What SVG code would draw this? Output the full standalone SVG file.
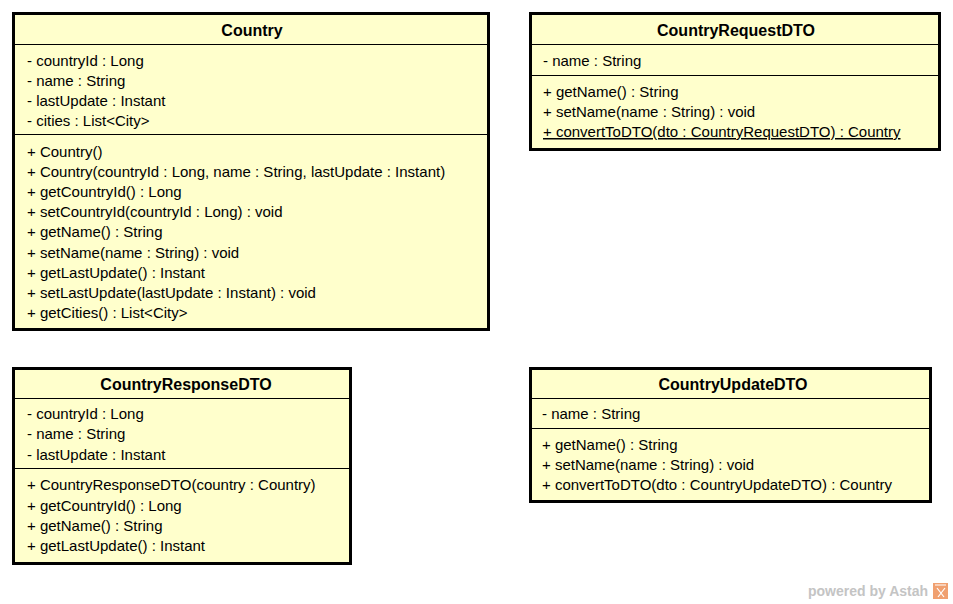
<svg xmlns="http://www.w3.org/2000/svg" width="953" height="604" viewBox="0 0 953 604">
<style>
.box{fill:#FFFFCC;stroke:#000;stroke-width:3}
.sep{stroke:#000;stroke-width:1}
.t{font-family:"Liberation Sans",Arial,sans-serif;font-size:15px;fill:#000}
.title{font-family:"Liberation Sans",Arial,sans-serif;font-size:16px;font-weight:bold;fill:#000;text-anchor:middle}
.wm{font-family:"Liberation Sans",Arial,sans-serif;font-size:14px;font-weight:bold;fill:#C4C4C4}
</style>
<rect width="953" height="604" fill="#fff"/>
<g id="Country">
<rect class="box" x="13.5" y="13.5" width="475" height="316"/>
<line class="sep" x1="15" y1="44.5" x2="487" y2="44.5"/>
<line class="sep" x1="15" y1="134.5" x2="487" y2="134.5"/>
<text class="title" x="252" y="36">Country</text>
<text class="t" x="27" y="66">- countryId : Long</text>
<text class="t" x="27" y="86">- name : String</text>
<text class="t" x="27" y="106">- lastUpdate : Instant</text>
<text class="t" x="27" y="126">- cities : List&lt;City&gt;</text>
<text class="t" x="27" y="157">+ Country()</text>
<text class="t" x="27" y="177">+ Country(countryId : Long, name : String, lastUpdate : Instant)</text>
<text class="t" x="27" y="197">+ getCountryId() : Long</text>
<text class="t" x="27" y="217">+ setCountryId(countryId : Long) : void</text>
<text class="t" x="27" y="237">+ getName() : String</text>
<text class="t" x="27" y="258">+ setName(name : String) : void</text>
<text class="t" x="27" y="278">+ getLastUpdate() : Instant</text>
<text class="t" x="27" y="298">+ setLastUpdate(lastUpdate : Instant) : void</text>
<text class="t" x="27" y="318">+ getCities() : List&lt;City&gt;</text>
</g>
<g id="CountryRequestDTO">
<rect class="box" x="530.5" y="13.5" width="409" height="136"/>
<line class="sep" x1="532" y1="44.5" x2="938" y2="44.5"/>
<line class="sep" x1="532" y1="75.5" x2="938" y2="75.5"/>
<text class="title" x="736" y="36">CountryRequestDTO</text>
<text class="t" x="543" y="66">- name : String</text>
<text class="t" x="543" y="97">+ getName() : String</text>
<text class="t" x="543" y="117">+ setName(name : String) : void</text>
<text class="t" x="543" y="137" text-decoration="underline">+ convertToDTO(dto : CountryRequestDTO) : Country</text>
</g>
<g id="CountryResponseDTO">
<rect class="box" x="13.5" y="368.5" width="337" height="195"/>
<line class="sep" x1="15" y1="398.5" x2="349" y2="398.5"/>
<line class="sep" x1="15" y1="468.5" x2="349" y2="468.5"/>
<text class="title" x="186" y="390">CountryResponseDTO</text>
<text class="t" x="27" y="419">- countryId : Long</text>
<text class="t" x="27" y="439">- name : String</text>
<text class="t" x="27" y="460">- lastUpdate : Instant</text>
<text class="t" x="27" y="490">+ CountryResponseDTO(country : Country)</text>
<text class="t" x="27" y="511">+ getCountryId() : Long</text>
<text class="t" x="27" y="531">+ getName() : String</text>
<text class="t" x="27" y="551">+ getLastUpdate() : Instant</text>
</g>
<g id="CountryUpdateDTO">
<rect class="box" x="530.5" y="368.5" width="400" height="133"/>
<line class="sep" x1="532" y1="398.5" x2="929" y2="398.5"/>
<line class="sep" x1="532" y1="428.5" x2="929" y2="428.5"/>
<text class="title" x="733" y="390">CountryUpdateDTO</text>
<text class="t" x="542" y="419">- name : String</text>
<text class="t" x="542" y="450">+ getName() : String</text>
<text class="t" x="542" y="470">+ setName(name : String) : void</text>
<text class="t" x="542" y="490">+ convertToDTO(dto : CountryUpdateDTO) : Country</text>
</g>
<g id="connectors"></g>
<g id="watermark">
<text class="wm" x="808" y="596">powered by Astah</text>
<rect x="933" y="583" width="15" height="16" fill="#F0A070"/>
<path d="M935 585 L946 585 M937 588 L944 597 M945 588 L938 597" stroke="#fff" stroke-width="1.2" fill="none"/>
</g>
</svg>
